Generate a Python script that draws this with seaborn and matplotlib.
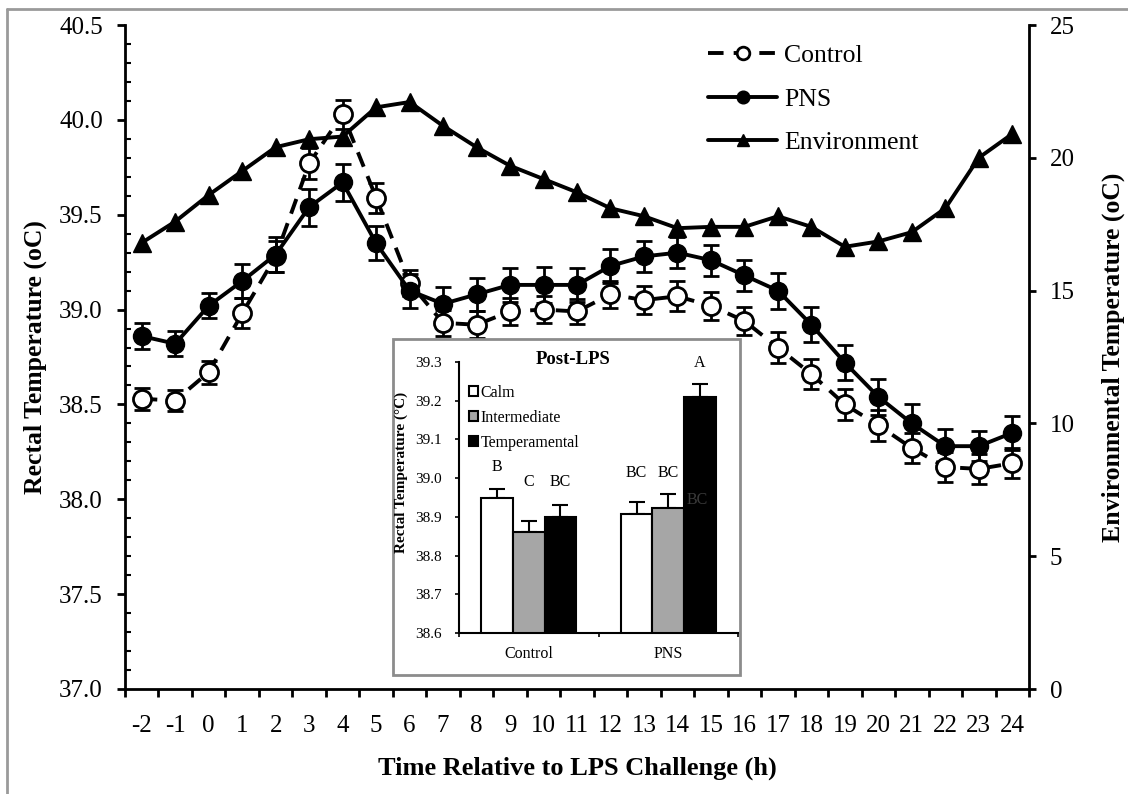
import numpy as np
import pandas as pd
import matplotlib
matplotlib.use("Agg")
import matplotlib.pyplot as plt
from matplotlib.lines import Line2D
from matplotlib.patches import Rectangle, Patch
from matplotlib.container import BarContainer
import seaborn as sns

# ---------------- data ----------------
hours = [-2, -1, 0, 1, 2, 3, 4, 5, 6, 7, 8, 9, 10, 11, 12, 13, 14, 15, 16, 17, 18, 19, 20, 21, 22, 23, 24]
control = [38.53, 38.52, 38.67, 38.98, 39.28, 39.77, 40.03, 39.59, 39.14, 38.93, 38.92, 38.99, 39.00,
           38.99, 39.08, 39.05, 39.07, 39.02, 38.94, 38.80, 38.66, 38.50, 38.39, 38.27, 38.17, 38.16, 38.19]
control_se = [0.057, 0.057, 0.060, 0.079, 0.080, 0.081, 0.076, 0.079, 0.070, 0.070, 0.070, 0.070, 0.070,
              0.065, 0.070, 0.075, 0.079, 0.075, 0.075, 0.083, 0.079, 0.082, 0.083, 0.077, 0.079, 0.079, 0.079]
pns = [38.86, 38.82, 39.02, 39.15, 39.29, 39.54, 39.67, 39.35, 39.10, 39.03, 39.08, 39.13, 39.13,
       39.13, 39.23, 39.28, 39.30, 39.26, 39.18, 39.10, 38.92, 38.72, 38.54, 38.40, 38.28, 38.28, 38.35]
pns_se = [0.068, 0.067, 0.065, 0.088, 0.090, 0.097, 0.097, 0.088, 0.090, 0.088, 0.088, 0.088, 0.095,
          0.090, 0.088, 0.084, 0.080, 0.082, 0.083, 0.095, 0.092, 0.093, 0.094, 0.100, 0.088, 0.079, 0.091]
env = [16.8, 17.6, 18.6, 19.5, 20.4, 20.7, 20.8, 21.9, 22.1, 21.2, 20.4, 19.7, 19.2,
       18.7, 18.1, 17.8, 17.35, 17.4, 17.4, 17.8, 17.4, 16.65, 16.85, 17.2, 18.1, 20.0, 20.9]

inset_groups = ["Control", "PNS"]
temperaments = ["Calm", "Intermediate", "Temperamental"]
inset_control = [38.948, 38.862, 38.900]
inset_pns = [38.907, 38.924, 39.210]
inset_control_se = [0.023, 0.028, 0.030]
inset_pns_se = [0.032, 0.035, 0.033]
letters_control = ["B", "C", "BC"]
letters_pns = ["BC", "BC", "A"]
letter_y_control = [39.029, 38.990, 38.990]
letter_y_pns = [39.013, 39.013, 39.297]

# ---------------- style ----------------
sns.set_style("white")
plt.rcParams["font.family"] = ["Liberation Serif", "DejaVu Serif"]
plt.rcParams["text.color"] = "black"
plt.rcParams["axes.labelcolor"] = "black"
plt.rcParams["xtick.color"] = "black"
plt.rcParams["ytick.color"] = "black"

W, H = 1128, 794
fig = plt.figure(figsize=(W / 100, H / 100), dpi=100)
fig.patch.set_facecolor("white")

ax = fig.add_axes([125 / W, 1 - 689 / H, (1029 - 125) / W, (689 - 25) / H])
ax2 = ax.twinx()

lw = 2.8
ms = 13

# error bars (beneath markers)
ax.errorbar(hours, control, yerr=control_se, fmt="none", ecolor="black",
            elinewidth=2, capsize=6, capthick=2, zorder=1.5)
ax.errorbar(hours, pns, yerr=pns_se, fmt="none", ecolor="black",
            elinewidth=2, capsize=6, capthick=2, zorder=1.5)

sns.lineplot(x=hours, y=control, ax=ax, color="black", linewidth=lw,
             linestyle=(0, (4, 2.6)), marker="o", markersize=ms,
             markerfacecolor="white", markeredgecolor="black", markeredgewidth=2,
             errorbar=None, label="Control", zorder=3)
sns.lineplot(x=hours, y=pns, ax=ax, color="black", linewidth=lw,
             marker="o", markersize=ms, markerfacecolor="black",
             markeredgecolor="black", markeredgewidth=1,
             errorbar=None, label="PNS", zorder=4)
sns.lineplot(x=hours, y=env, ax=ax2, color="black", linewidth=lw,
             marker="^", markersize=ms, markerfacecolor="black",
             markeredgecolor="black", markeredgewidth=1,
             errorbar=None, label="Environment", zorder=4)

# axes limits & ticks
ax.set_xlim(-2.5, 24.5)
ax.set_ylim(37.0, 40.5)
ax2.set_ylim(0, 25)

ax.set_xticks(hours)
ax.set_xticklabels([str(h) for h in hours])
ax.set_xticks([h - 0.5 for h in hours] + [24.5], minor=True)
ax.tick_params(axis="x", which="major", length=0, labelsize=18, pad=18.5)
ax.tick_params(axis="x", which="minor", direction="out", length=6, width=2, bottom=True)

ax.set_yticks(np.arange(37.0, 40.51, 0.5))
ax.set_yticklabels([f"{v:.1f}" for v in np.arange(37.0, 40.51, 0.5)])
ax.set_yticks(np.arange(37.0, 40.51, 0.1), minor=True)
ax.tick_params(axis="y", which="major", direction="out", length=6, width=2, labelsize=18, pad=10, left=True)
ax.tick_params(axis="y", which="minor", direction="in", length=4, width=1.5, left=True)

ax2.set_yticks([0, 5, 10, 15, 20, 25])
ax2.tick_params(axis="y", which="major", direction="out", length=5, width=2, labelsize=18, pad=10, right=True)

for s in ["top", "right"]:
    ax.spines[s].set_visible(False)
for s in ["left", "bottom"]:
    ax.spines[s].set_linewidth(2)
    ax.spines[s].set_color("black")
for s in ["top", "left", "bottom"]:
    ax2.spines[s].set_visible(False)
ax2.spines["right"].set_linewidth(2)
ax2.spines["right"].set_color("black")

ax.set_xlabel("Time Relative to LPS Challenge (h)", fontsize=19, fontweight="bold", labelpad=14)
ax.set_ylabel("Rectal Temperature (oC)", fontsize=18.5, fontweight="bold", labelpad=9)
ax2.set_ylabel("Environmental Temperature (oC)", fontsize=18.5, fontweight="bold", labelpad=19)

# legend
h1, l1 = ax.get_legend_handles_labels()
h2, l2 = ax2.get_legend_handles_labels()
if ax.get_legend() is not None:
    ax.get_legend().remove()
if ax2.get_legend() is not None:
    ax2.get_legend().remove()
leg = fig.legend(h1 + h2, l1 + l2, loc="upper left",
                 bbox_to_anchor=(708 / W, 1 - 44 / H), frameon=False,
                 fontsize=18.5, handlelength=2.7, handletextpad=0.25,
                 labelspacing=0.8, markerscale=0.7, borderpad=0, borderaxespad=0)

# ---------------- inset ----------------
box = Rectangle((393 / W, 1 - 675 / H), (740 - 393) / W, (675 - 339) / H,
                transform=fig.transFigure, facecolor="white", edgecolor="#8c8c8c",
                linewidth=2, zorder=2)
fig.patches.append(box)

axin = fig.add_axes([459 / W, 1 - 633 / H, (738 - 459) / W, (633 - 362) / H])
axin.set_zorder(3)
axin.patch.set_alpha(0)

inset_df = pd.DataFrame({
    "group": [g for g in inset_groups for _ in temperaments],
    "temperament": temperaments * len(inset_groups),
    "temp": inset_control + inset_pns,
})
bar_colors = ["white", "#a6a6a6", "black"]
sns.barplot(data=inset_df, x="group", y="temp", hue="temperament",
            order=inset_groups, hue_order=temperaments, palette=bar_colors,
            edgecolor="black", linewidth=1.5, width=0.68, errorbar=None,
            ax=axin, legend=False)
axin.set_ylim(38.6, 39.3)
axin.set_xlim(-0.5, 1.5)

se_by_group = [inset_control_se, inset_pns_se]
letters_by_group = [letters_control, letters_pns]
letter_y_by_group = [letter_y_control, letter_y_pns]
bar_containers = [c for c in axin.containers if isinstance(c, BarContainer)]
for hi, cont in enumerate(bar_containers):
    for gi, bar in enumerate(cont.patches):
        cx = bar.get_x() + bar.get_width() / 2
        top = bar.get_height()
        se = se_by_group[gi][hi]
        axin.errorbar([cx], [top], yerr=[[0], [se]], fmt="none", ecolor="black",
                      elinewidth=1.5, capsize=6, capthick=1.5, zorder=0.5)
        axin.text(cx, letter_y_by_group[gi][hi], letters_by_group[gi][hi],
                  ha="center", va="center", fontsize=11.5, color="black")
        if gi == 1 and hi == 2:
            axin.text(cx - 0.02, 38.943, "BC", ha="center", va="center",
                      fontsize=11.5, color="#3a3a3a")

axin.set_yticks(np.arange(38.6, 39.31, 0.1))
axin.set_yticklabels([f"{v:.1f}" for v in np.arange(38.6, 39.31, 0.1)])
axin.tick_params(axis="y", direction="out", length=3, width=1.2, labelsize=11, pad=9.5, left=True)
axin.set_xticks([0, 1])
axin.set_xticks([-0.5, 0.5, 1.5], minor=True)
axin.tick_params(axis="x", which="major", length=0, labelsize=11.5, pad=9)
axin.tick_params(axis="x", which="minor", direction="out", length=3, width=1.2, bottom=True)
for s in ["top", "right"]:
    axin.spines[s].set_visible(False)
for s in ["left", "bottom"]:
    axin.spines[s].set_linewidth(1.5)
    axin.spines[s].set_color("black")
axin.set_xlabel("")
axin.set_ylabel("Rectal Temperature (°C)", fontsize=11, fontweight="bold")
axin.yaxis.set_label_coords(-0.183, 0.594)
axin.text(0.41, 1.01, "Post-LPS", transform=axin.transAxes, ha="center", va="center",
          fontsize=13.5, fontweight="bold")
leg_handles = [Patch(facecolor=c, edgecolor="black", linewidth=1.5) for c in bar_colors]
axin.legend(leg_handles, temperaments, loc="upper left", bbox_to_anchor=(0.035, 0.915),
            frameon=False, fontsize=11.5, handlelength=0.6, handleheight=0.6,
            handletextpad=0.15, labelspacing=0.55, borderpad=0, borderaxespad=0)

# figure border (partial frame)
fig.add_artist(Line2D([7 / W, 1], [1 - 9 / H, 1 - 9 / H], transform=fig.transFigure,
                      color="#9a9a9a", linewidth=2))
fig.add_artist(Line2D([7 / W, 7 / W], [0, 1 - 9 / H], transform=fig.transFigure,
                      color="#9a9a9a", linewidth=2))

fig.savefig("out.png", dpi=100, facecolor="white")
